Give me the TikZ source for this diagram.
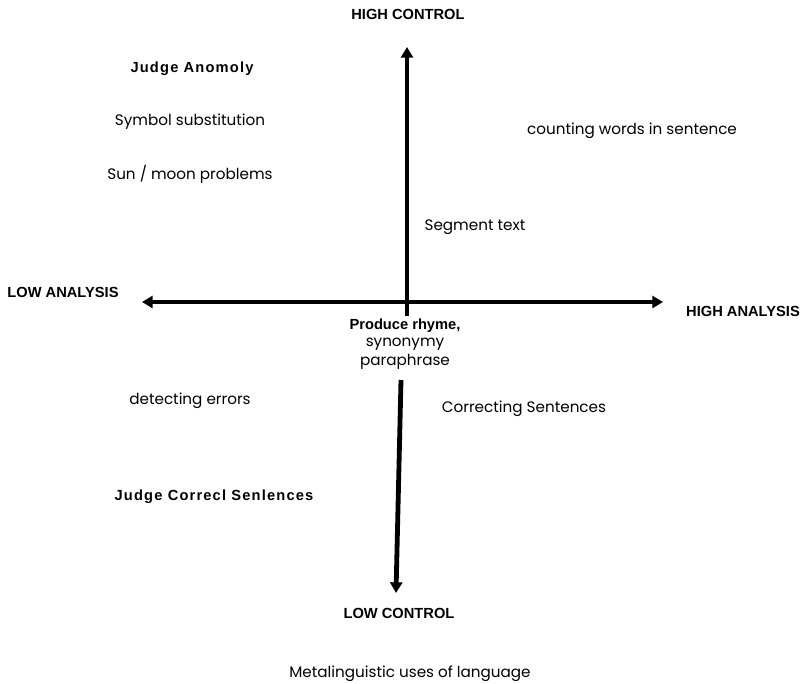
\documentclass[tikz,border=0pt]{standalone}
\usepackage{fontspec}
\setmainfont{Liberation Sans}
\newfontfamily\geo{Poppins}
\newfontfamily\widebold[LetterSpace=8]{Liberation Sans}
\usetikzlibrary{arrows.meta}
\begin{document}
\begin{tikzpicture}[x=0.75pt,y=-0.75pt,
  axis/.style={line width=3.6pt,-{Triangle[length=8pt,width=9pt]}},
  boldlab/.style={font=\fontsize{11pt}{13pt}\selectfont\bfseries,inner sep=0pt},
  widelab/.style={font=\fontsize{11pt}{13pt}\selectfont\widebold\bfseries,inner sep=0pt},
  plainlab/.style={font=\fontsize{11.4pt}{13pt}\selectfont\geo,inner sep=0pt}]
\useasboundingbox (0,0) rectangle (801,684);
% axis coordinates
\coordinate (top) at (407,47);
\coordinate (cross) at (407,316);
\coordinate (left) at (142,302);
\coordinate (right) at (663,302);
\coordinate (lowstart) at (401,380);
\coordinate (bottom) at (396,593);
\coordinate (hmid) at (407,302);
\draw[axis] (cross) -- (top);
\draw[axis] (hmid) -- (left);
\draw[axis] (hmid) -- (right);
\draw[axis] (lowstart) -- (bottom);
% labels
\node[boldlab] (hc) at (408,14) {HIGH CONTROL};
\node[boldlab] (la) at (63,292) {LOW ANALYSIS};
\node[boldlab] (ha) at (743,311) {HIGH ANALYSIS};
\node[boldlab] (lc) at (399,613) {LOW CONTROL};
\node[widelab] (ja) at (192,69) {Judge Anomoly};
\node[plainlab] (ss) at (190,122) {Symbol substitution};
\node[plainlab] (sm) at (190,174) {Sun / moon problems};
\node[plainlab] (cw) at (632,131) {counting words in sentence};
\node[plainlab] (st) at (475,227) {Segment text};
\node[boldlab] (pr) at (405,326) {Produce rhyme,};
\node[plainlab] (sy) at (405,344) {synonymy};
\node[plainlab] (pp) at (405,362) {paraphrase};
\node[plainlab] (de) at (190,401) {detecting errors};
\node[plainlab] (cs) at (524,409) {Correcting Sentences};
\node[widelab] (jc) at (214,497) {Judge Correcl Senlences};
\node[plainlab] (ml) at (410,674) {Metalinguistic uses of language};
\end{tikzpicture}
\end{document}
